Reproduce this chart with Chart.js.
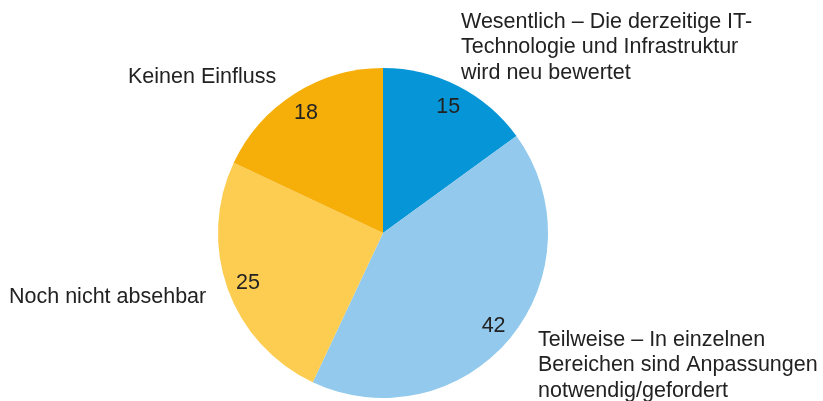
<!DOCTYPE html>
<html><head><meta charset="utf-8">
<script src="https://cdn.jsdelivr.net/npm/chart.js"></script>
<style>html,body{margin:0;padding:0;background:#fff;}#wrap{width:823px;height:401px;}</style>
</head><body><div id="wrap"><canvas id="c" width="823" height="401"></canvas></div>
<script>
const categories = [
  "Wesentlich – Die derzeitige IT-\nTechnologie und Infrastruktur\nwird neu bewertet",
  "Teilweise – In einzelnen\nBereichen sind Anpassungen\nnotwendig/gefordert",
  "Noch nicht absehbar",
  "Keinen Einfluss"
];
const values = [15, 42, 25, 18];
const colors = ["#0696d7", "#92c9ec", "#fdcd52", "#f6ae09"];
// outer label anchors (left x, baseline y of first line)
const labelPos = [[461, 28], [538, 346], [9, 303], [128, 83]];

const labelPlugin = {
  id: 'labels',
  afterDatasetsDraw(chart) {
    const ctx = chart.ctx;
    const meta = chart.getDatasetMeta(0);
    ctx.save();
    ctx.font = '21.5px "Liberation Sans", Arial, sans-serif';
    ctx.fillStyle = '#222';
    ctx.textBaseline = 'alphabetic';
    ctx.textAlign = 'center';
    meta.data.forEach((arc, i) => {
      const mid = (arc.startAngle + arc.endAngle) / 2;
      const r = arc.outerRadius * 0.87;
      ctx.fillText(String(values[i]), arc.x + Math.cos(mid) * r, arc.y + Math.sin(mid) * r + 7.5);
    });
    ctx.textAlign = 'left';
    categories.forEach((c, i) => {
      c.split('\n').forEach((line, j) => {
        ctx.fillText(line, labelPos[i][0], labelPos[i][1] + j * 25.3);
      });
    });
    ctx.restore();
  }
};

new Chart(document.getElementById('c'), {
  type: 'pie',
  data: { labels: categories, datasets: [{ data: values, backgroundColor: colors, borderWidth: 0 }] },
  options: {
    responsive: false, animation: false,
    layout: { padding: { top: 68, bottom: 3, left: 0, right: 57 } },
    plugins: { legend: { display: false }, tooltip: { enabled: false } }
  },
  plugins: [labelPlugin]
});
</script></body></html>
